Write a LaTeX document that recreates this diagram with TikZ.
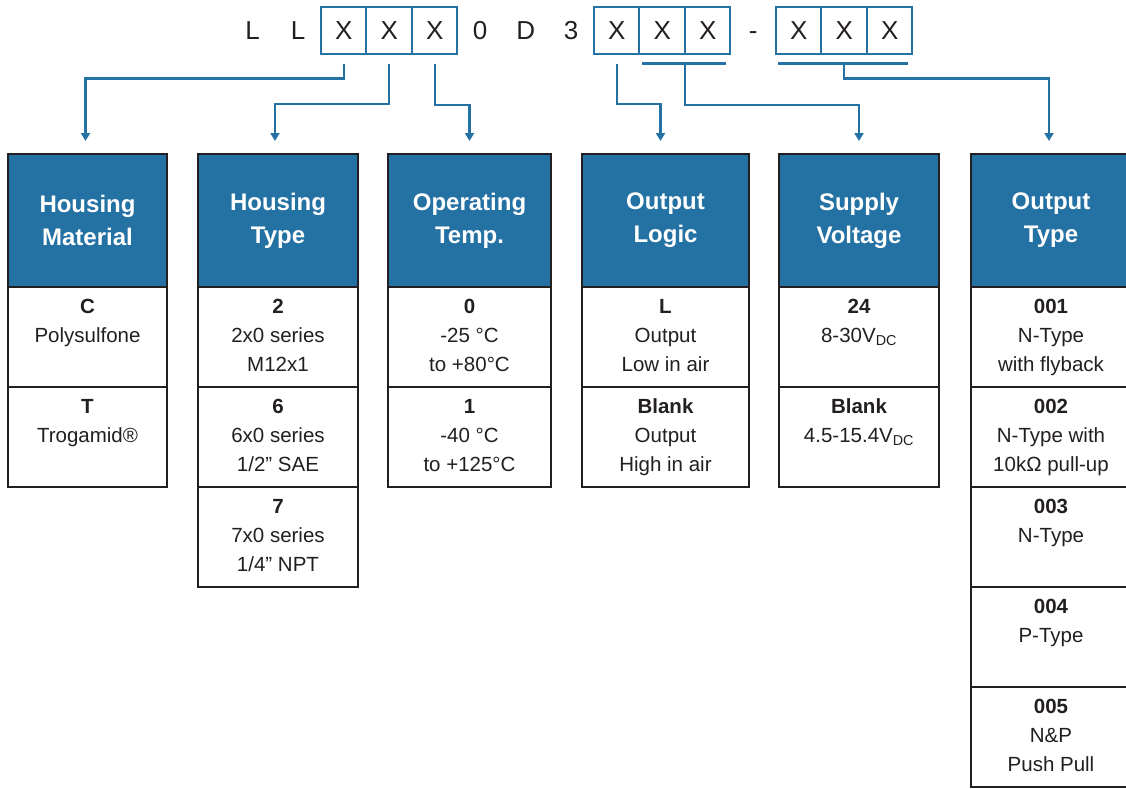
\documentclass[tikz,border=0pt]{standalone}
\usepackage{fontspec}
\setmainfont{Liberation Sans}
\usepackage{tikz}
\usetikzlibrary{arrows.meta,positioning}
\definecolor{codeblue}{RGB}{36,113,163}
\definecolor{ink}{RGB}{35,31,32}
\newcommand{\opt}[3]{\strut\textbf{#1}\\#2\\#3\strut}

\begin{document}
\begin{tikzpicture}[x=1pt, y=-1pt,
  head/.style={draw=ink, line width=2pt, fill=codeblue, text=white,
    font=\fontsize{24}{33}\selectfont\bfseries, align=center,
    minimum width=#1, minimum height=133pt, inner sep=0pt, outer sep=0pt, anchor=north},
  cell/.style={draw=ink, line width=2pt, fill=white, text=ink,
    font=\fontsize{20.5}{29}\selectfont, align=center,
    minimum width=#1, minimum height=100pt, inner sep=0pt, outer sep=0pt},
  digit/.style={minimum width=45.5pt, minimum height=47pt, inner sep=0pt, outer sep=0pt,
    text height=18.7pt, text depth=0pt, font=\fontsize{26}{26}\selectfont, text=ink},
  slot/.style={digit, draw=codeblue, line width=2pt},
  feed/.style={draw=codeblue, line width=2.2pt, -{Triangle[width=9pt,length=8pt]},
    shorten >=13pt, shorten <=10pt},
  bar/.style={draw=codeblue, line width=2.2pt}]

\useasboundingbox (0,0) rectangle (1126,788);

%% === Order code ===
\foreach \c/\s [count=\i from 0] in {L/digit, L/digit, X/slot, X/slot, X/slot,
    0/digit, D/digit, 3/digit, X/slot, X/slot, X/slot, -/digit, X/slot, X/slot, X/slot} {
  \node[\s] (k\i) at ({252.7+45.5*\i}, 30.5) {\c};
}

%% === Column: Housing Material ===
\node[head=159pt] (head1) at (87.5,154) {Housing\\Material};
\node[cell=159pt, below=0pt of head1] (mat1) {\opt{C}{Polysulfone}{}};
\node[cell=159pt, below=0pt of mat1] (mat2) {\opt{T}{Trogamid®}{}};

%% === Column: Housing Type ===
\node[head=160pt] (head2) at (278,154) {Housing\\Type};
\node[cell=160pt, below=0pt of head2] (typ1) {\opt{2}{2x0 series}{M12x1}};
\node[cell=160pt, below=0pt of typ1] (typ2) {\opt{6}{6x0 series}{1/2” SAE}};
\node[cell=160pt, below=0pt of typ2] (typ3) {\opt{7}{7x0 series}{1/4” NPT}};

%% === Column: Operating Temp. ===
\node[head=163pt] (head3) at (469.5,154) {Operating\\Temp.};
\node[cell=163pt, below=0pt of head3] (tmp1) {\opt{0}{-25 °C}{to +80°C}};
\node[cell=163pt, below=0pt of tmp1] (tmp2) {\opt{1}{-40 °C}{to +125°C}};

%% === Column: Output Logic ===
\node[head=167pt] (head4) at (665.5,154) {Output\\Logic};
\node[cell=167pt, below=0pt of head4] (log1) {\opt{L}{Output}{Low in air}};
\node[cell=167pt, below=0pt of log1] (log2) {\opt{Blank}{Output}{High in air}};

%% === Column: Supply Voltage ===
\node[head=160pt] (head5) at (859,154) {Supply\\Voltage};
\node[cell=160pt, below=0pt of head5] (vol1) {\opt{24}{8-30V\textsubscript{DC}}{}};
\node[cell=160pt, below=0pt of vol1] (vol2) {\opt{Blank}{4.5-15.4V\textsubscript{DC}}{}};

%% === Column: Output Type ===
\node[head=160pt] (head6) at (1051,154) {Output\\Type};
\node[cell=160pt, below=0pt of head6] (out1) {\opt{001}{N-Type}{with flyback}};
\node[cell=160pt, below=0pt of out1] (out2) {\opt{002}{N-Type with}{10kΩ pull-up}};
\node[cell=160pt, below=0pt of out2] (out3) {\opt{003}{N-Type}{}};
\node[cell=160pt, below=0pt of out3] (out4) {\opt{004}{P-Type}{}};
\node[cell=160pt, below=0pt of out4] (out5) {\opt{005}{N\&P}{Push Pull}};

%% === Connectors ===
\draw[feed] (k2.south) -- ++(0,24.5) -| ([xshift=-2pt]head1.north);
\draw[feed] (k3.south) -- ++(0,50) -| ([xshift=-3pt]head2.north);
\draw[feed] (k4.south) -- ++(0,51) -| (head3.north);
\draw[feed] (k8.south) -- ++(0,50) -| ([xshift=-5pt]head4.north);
% brackets under grouped digits
\draw[bar] ([shift={(3,9.5)}]k9.south west) -- ([shift={(-4,9.5)}]k10.south east);
\draw[feed, shorten <=0pt] ([shift={(0,9.5)}]k9.south east) -- ++(0,41.5) -| (head5.north);
\draw[bar] ([shift={(2,9.5)}]k12.south west) -- ([shift={(-4,9.5)}]k14.south east);
\draw[feed, shorten <=0pt] ([shift={(0,9.5)}]k13.south) -- ++(0,15) -| ([xshift=-2pt]head6.north);

\end{tikzpicture}
\end{document}
